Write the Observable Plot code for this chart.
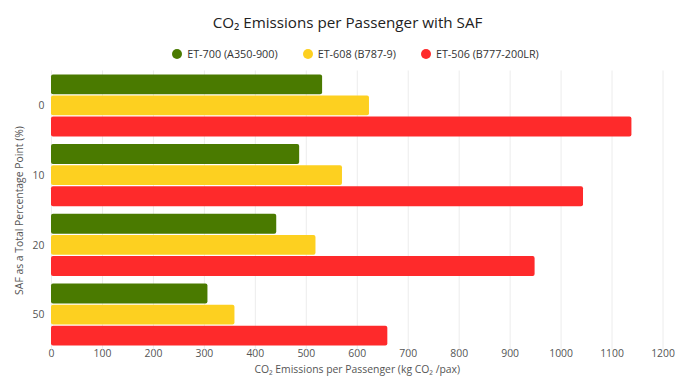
<!DOCTYPE html>
<html>
<head>
<meta charset="utf-8">
<script src="https://cdn.jsdelivr.net/npm/d3@7"></script>
<script src="https://cdn.jsdelivr.net/npm/@observablehq/plot@0.6"></script>
<style>
  body { margin: 0; background: #fff; font-family: "Open Sans", sans-serif; width: 675px; height: 376px; overflow: hidden; }
  #title { height: 42px; line-height: 44px; text-align: center; font-size: 15.2px; color: #222; padding-left: 20px; }
  #legend { height: 23px; display: flex; justify-content: center; align-items: center; font-size: 10.8px; color: #333; gap: 25px; padding-left: 36px; }
  .item { display: flex; align-items: center; gap: 5px; }
  .dot { width: 10px; height: 10px; border-radius: 50%; display: inline-block; }
  #chart svg { display: block; }
</style>
</head>
<body>
<div id="title">CO₂ Emissions per Passenger with SAF</div>
<div id="legend"></div>
<div id="chart"></div>
<script>
const safLevels = ["0", "10", "20", "50"];
const seriesNames = ["ET-700 (A350-900)", "ET-608 (B787-9)", "ET-506 (B777-200LR)"];
const seriesColors = ["#4a7a00", "#fdd020", "#fe2a2b"];
const et700 = [532, 487, 442, 307];
const et608 = [624, 571, 519, 360];
const et506 = [1139, 1044, 949, 660];
const xTicks = [0, 100, 200, 300, 400, 500, 600, 700, 800, 900, 1000, 1100, 1200];

const seriesValues = [et700, et608, et506];
const data = [];
safLevels.forEach((s, i) => {
  seriesNames.forEach((n, j) => data.push({saf: s, series: n, value: seriesValues[j][i]}));
});

const legend = document.getElementById("legend");
seriesNames.forEach((n, j) => {
  const it = document.createElement("span");
  it.className = "item";
  it.innerHTML = `<span class="dot" style="background:${seriesColors[j]}"></span><span>${n}</span>`;
  legend.appendChild(it);
});

const gridData = [];
safLevels.forEach(s => xTicks.forEach(t => gridData.push({saf: s, x: t})));

const chart = Plot.plot({
  width: 675,
  height: 311,
  marginTop: 8,
  marginBottom: 29,
  marginLeft: 51,
  marginRight: 12.5,
  style: {fontFamily: "Open Sans, sans-serif", fontSize: "10.4px", color: "#555"},
  x: {domain: [0, 1200], ticks: xTicks, tickFormat: d => String(d), tickSize: 0, tickPadding: 4,
      label: "CO₂ Emissions per Passenger (kg CO₂ /pax)", labelArrow: "none", labelAnchor: "center", labelOffset: 27},
  y: {domain: seriesNames, axis: null, paddingInner: 0.06, paddingOuter: 0, round: false},
  fy: {domain: safLevels, paddingInner: 0.11, paddingOuter: 0.02, round: false,
       label: "SAF as a Total Percentage Point (%)", labelArrow: "none", labelAnchor: "center", tickSize: 0, tickPadding: 7, labelOffset: 36},
  color: {domain: seriesNames, range: seriesColors},
  marks: [
    Plot.ruleX(gridData, {x: "x", fy: "saf", stroke: "#ececec", strokeWidth: 1, insetTop: -3.9, insetBottom: -3.9}),
    Plot.barX(data, {x: "value", y: "series", fy: "saf", fill: "series", rx: 2}),
  ]
});
document.getElementById("chart").appendChild(chart);
</script>
</body>
</html>
